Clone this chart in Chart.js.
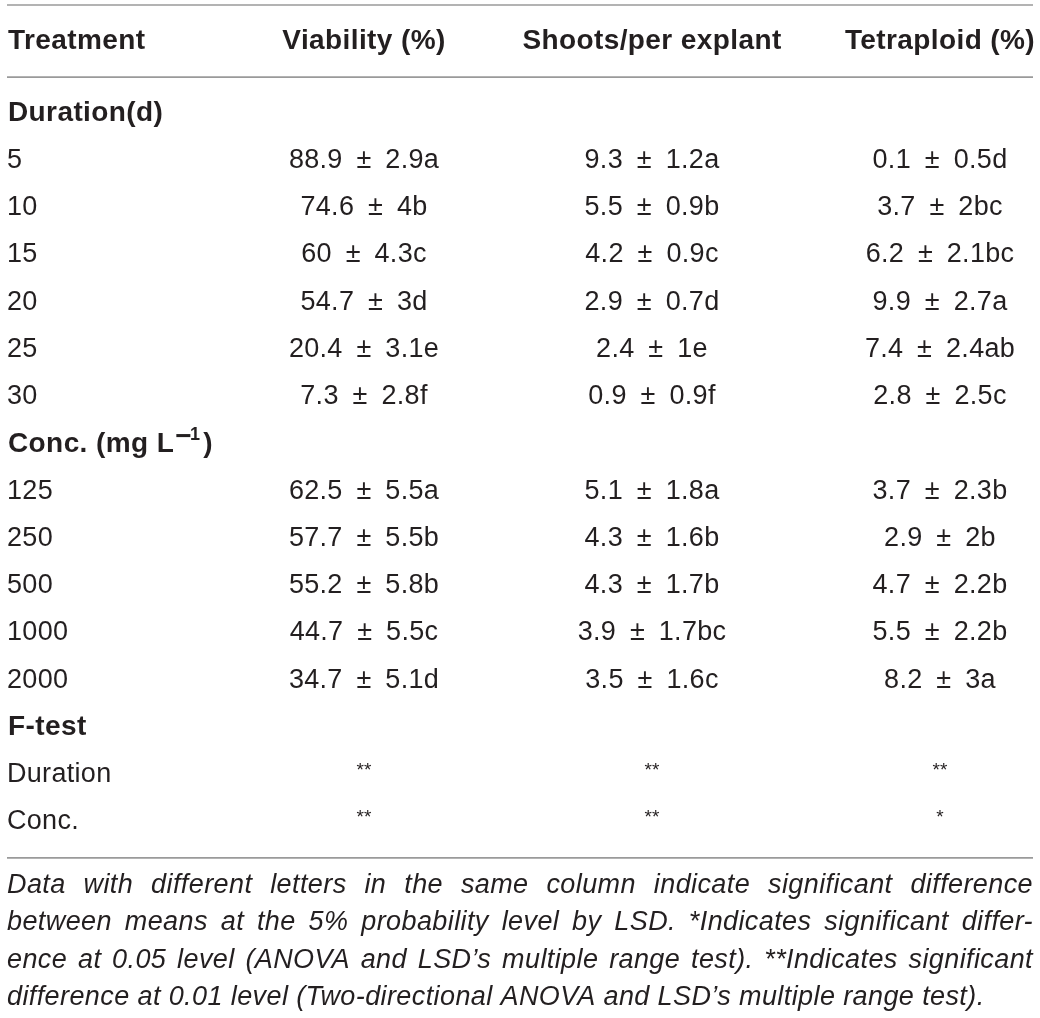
<!DOCTYPE html>
<html>
<head>
<meta charset="utf-8">
<script src="https://cdn.jsdelivr.net/npm/chart.js@4.4.1/dist/chart.umd.min.js"></script>
<style>
  html, body { margin: 0; padding: 0; background: #ffffff; }
  #wrap { width: 1040px; height: 1018px; position: relative; }
</style>
</head>
<body>
<div id="wrap"><canvas id="c" width="1040" height="1018"></canvas></div>
<script>
// ---------- DATA ----------
const headerFirst = 'Treatment';
const columns = ['Viability (%)', 'Shoots/per explant', 'Tetraploid (%)'];

const durationTitle = 'Duration(d)';
const durations = ['5', '10', '15', '20', '25', '30'];
const concTitle = 'Conc. (mg L\u22121)';
const concs = ['125', '250', '500', '1000', '2000'];
const fTitle = 'F-test';
const fRows = ['Duration', 'Conc.'];

// Duration rows
const durViabilityMean = [88.9, 74.6, 60, 54.7, 20.4, 7.3];
const durViabilitySD   = [2.9, 4, 4.3, 3, 3.1, 2.8];
const durViabilityLet  = ['a', 'b', 'c', 'd', 'e', 'f'];
const durShootsMean    = [9.3, 5.5, 4.2, 2.9, 2.4, 0.9];
const durShootsSD      = [1.2, 0.9, 0.9, 0.7, 1, 0.9];
const durShootsLet     = ['a', 'b', 'c', 'd', 'e', 'f'];
const durTetraMean     = [0.1, 3.7, 6.2, 9.9, 7.4, 2.8];
const durTetraSD       = [0.5, 2, 2.1, 2.7, 2.4, 2.5];
const durTetraLet      = ['d', 'bc', 'bc', 'a', 'ab', 'c'];

// Concentration rows
const concViabilityMean = [62.5, 57.7, 55.2, 44.7, 34.7];
const concViabilitySD   = [5.5, 5.5, 5.8, 5.5, 5.1];
const concViabilityLet  = ['a', 'b', 'b', 'c', 'd'];
const concShootsMean    = [5.1, 4.3, 4.3, 3.9, 3.5];
const concShootsSD      = [1.8, 1.6, 1.7, 1.7, 1.6];
const concShootsLet     = ['a', 'b', 'b', 'bc', 'c'];
const concTetraMean     = [3.7, 2.9, 4.7, 5.5, 8.2];
const concTetraSD       = [2.3, 2, 2.2, 2.2, 3];
const concTetraLet      = ['b', 'b', 'b', 'b', 'a'];

// F-test significance
const fViability = ['**', '**'];
const fShoots    = ['**', '**'];
const fTetra     = ['**', '*'];

const footnoteLines = [
  'Data with different letters in the same column indicate significant difference',
  'between means at the 5% probability level by LSD. *Indicates significant differ-',
  'ence at 0.05 level (ANOVA and LSD\u2019s multiple range test). **Indicates significant',
  'difference at 0.01 level (Two-directional ANOVA and LSD\u2019s multiple range test).'
];

// ---------- BUILD ----------
const groupTitles = [durationTitle, concTitle, fTitle];
const rowLabels = [durationTitle, ...durations, concTitle, ...concs, fTitle, ...fRows];

function cellText(m, s, l) { return m + '\u2002\u00b1\u2002' + s + l; }

function columnData(colName, dm, ds, dl, cm, cs, cl, f) {
  const pts = [];
  durations.forEach((d, i) => pts.push({ x: colName, y: d, t: cellText(dm[i], ds[i], dl[i]) }));
  concs.forEach((c, i) => pts.push({ x: colName, y: c, t: cellText(cm[i], cs[i], cl[i]) }));
  fRows.forEach((r, i) => pts.push({ x: colName, y: r, t: f[i], star: true }));
  return pts;
}

const datasets = [
  { label: columns[0], data: columnData(columns[0], durViabilityMean, durViabilitySD, durViabilityLet, concViabilityMean, concViabilitySD, concViabilityLet, fViability) },
  { label: columns[1], data: columnData(columns[1], durShootsMean, durShootsSD, durShootsLet, concShootsMean, concShootsSD, concShootsLet, fShoots) },
  { label: columns[2], data: columnData(columns[2], durTetraMean, durTetraSD, durTetraLet, concTetraMean, concTetraSD, concTetraLet, fTetra) }
];

const TEXT = '#231f20';
const RULE = '#9a9a9a';
const FONT = '"Liberation Sans", Arial, Helvetica, sans-serif';
const TABLE_LEFT = 7, TABLE_RIGHT = 1033;

const tablePlugin = {
  id: 'tableText',
  afterDatasetsDraw(chart) {
    const ctx = chart.ctx;
    const xs = chart.scales.x, ys = chart.scales.y;
    const area = chart.chartArea;
    const rowStep = ys.getPixelForValue(1) - ys.getPixelForValue(0);
    ctx.save();
    ctx.fillStyle = TEXT;
    ctx.textBaseline = 'middle';

    // rules
    const headerY = area.top - 1.52 * rowStep;
    ctx.strokeStyle = RULE;
    ctx.lineWidth = 1.6;
    const ruleYs = [5, area.top - 0.76 * rowStep, area.bottom + 0.76 * rowStep];
    ruleYs.forEach(y => {
      ctx.beginPath(); ctx.moveTo(TABLE_LEFT, y); ctx.lineTo(TABLE_RIGHT, y); ctx.stroke();
    });

    const BOLD = 'bold 28px ' + FONT, BOLD_LS = '0.4px';
    const REG = '27px ' + FONT, REG_LS = '0.3px';

    // header
    ctx.letterSpacing = BOLD_LS;
    ctx.font = BOLD;
    ctx.textAlign = 'left';
    ctx.fillText(headerFirst, 8, headerY);
    ctx.textAlign = 'center';
    xs.getLabels().forEach((lab, i) => {
      ctx.fillText(lab, xs.getPixelForValue(i), headerY);
    });

    // row labels
    ys.getLabels().forEach((lab, i) => {
      const y = ys.getPixelForValue(i);
      ctx.textAlign = 'left';
      if (groupTitles.includes(lab)) {
        ctx.letterSpacing = BOLD_LS;
        ctx.font = BOLD;
        if (lab === concTitle) {
          const base = 'Conc. (mg L';
          ctx.fillText(base, 8, y);
          let w = ctx.measureText(base).width + 1;
          ctx.fillText('\u2212', 8 + w, y - 7);
          w += ctx.measureText('\u2212').width - 2;
          ctx.font = 'bold 18px ' + FONT;
          ctx.fillText('1', 8 + w, y - 9);
          w += ctx.measureText('1').width + 3;
          ctx.font = BOLD;
          ctx.fillText(')', 8 + w, y);
        } else {
          ctx.fillText(lab, 8, y);
        }
      } else {
        ctx.letterSpacing = REG_LS;
        ctx.font = REG;
        ctx.fillText(lab, 7, y);
      }
    });

    // cells
    ctx.textAlign = 'center';
    chart.data.datasets.forEach((ds, di) => {
      const meta = chart.getDatasetMeta(di);
      meta.data.forEach((el, j) => {
        const p = ds.data[j];
        if (p.star) {
          ctx.letterSpacing = '0px';
          ctx.font = '19px ' + FONT;
          ctx.fillText(p.t, el.x, el.y - 4);
        } else {
          ctx.letterSpacing = REG_LS;
          ctx.font = REG;
          ctx.fillText(p.t, el.x, el.y);
        }
      });
    });

    // footnote (justified)
    ctx.letterSpacing = '0.4px';
    ctx.font = 'italic 27px ' + FONT;
    ctx.textAlign = 'left';
    ctx.textBaseline = 'alphabetic';
    const fnTop = area.bottom + 71;
    const fnStep = 37.4;
    footnoteLines.forEach((line, i) => {
      const y = fnTop + i * fnStep;
      const words = line.split(' ');
      if (i === footnoteLines.length - 1) {
        ctx.fillText(line, TABLE_LEFT, y);
        return;
      }
      const wordsW = words.reduce((s, w) => s + ctx.measureText(w).width, 0);
      const gap = (TABLE_RIGHT - TABLE_LEFT - wordsW) / (words.length - 1);
      let x = TABLE_LEFT;
      words.forEach(w => {
        ctx.fillText(w, x, y);
        x += ctx.measureText(w).width + gap;
      });
    });
    ctx.restore();
  }
};

new Chart(document.getElementById('c'), {
  type: 'scatter',
  data: { datasets },
  options: {
    responsive: false,
    animation: false,
    devicePixelRatio: 1,
    layout: { padding: { left: 364, right: 100, top: 113, bottom: 196 } },
    plugins: { legend: { display: false }, tooltip: { enabled: false } },
    elements: { point: { radius: 0, hoverRadius: 0 } },
    scales: {
      x: { type: 'category', labels: columns, offset: false, display: false },
      y: { type: 'category', labels: rowLabels, offset: false, display: false }
    }
  },
  plugins: [tablePlugin]
});
</script>
</body>
</html>
